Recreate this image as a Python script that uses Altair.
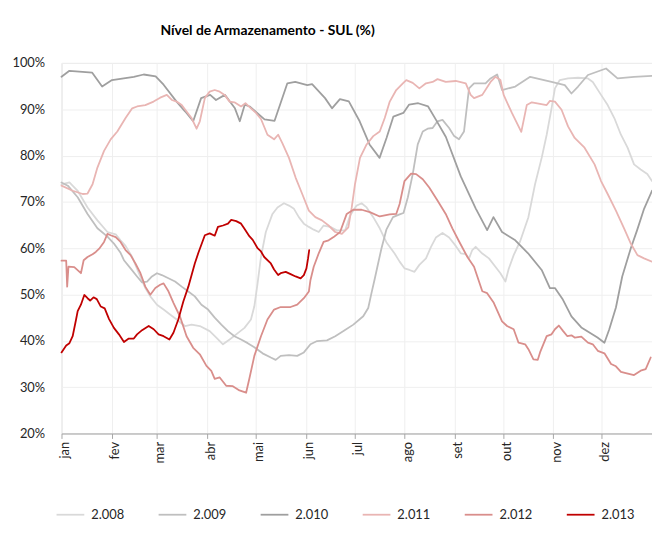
import altair as alt
import pandas as pd

YEARS = ["2.008", "2.009", "2.010", "2.011", "2.012", "2.013"]
COLORS = ["#d9d9d9", "#bfbfbf", "#9f9f9f", "#e9b5b3", "#d98e8b", "#c00000"]
WIDTHS = [1.8, 1.8, 1.8, 1.8, 1.8, 3.2]
MONTHS = ["jan", "fev", "mar", "abr", "mai", "jun", "jul", "ago", "set", "out", "nov", "dez", ""]
MONTH_START = [0, 31, 59, 90, 120, 151, 181, 212, 243, 273, 304, 334, 365]
Y_TICKS = [20, 30, 40, 50, 60, 70, 80, 90, 100]

# day of year / storage level (%)
d2008 = [0, 4.9, 10.0, 16.1, 22.2, 28.4, 33.5, 36.5, 39.6, 43.7, 47.8, 51.8, 54.9, 59.0, 63.1, 67.1,
         71.2, 76.3, 80.4, 85.5, 91.6, 95.7, 99.8, 103.9, 108.0, 113.1, 117.1, 119.2, 121.2, 123.3,
         126.3, 130.4, 133.5, 137.5, 140.6, 143.7, 146.7, 149.8, 152.9, 155.9, 159.0, 162.0, 166.1,
         170.2, 175.3, 178.4, 182.4, 185.5, 188.6, 192.7, 196.7, 200.8, 205.9, 209.0, 212.0, 215.1,
         218.2, 221.2, 225.3, 228.4, 231.4, 235.5, 239.6, 243.7, 246.8, 249.9, 251.9, 253.9, 256.0,
         260.1, 264.2, 268.2, 271.3, 274.4, 276.4, 279.5, 283.5, 288.6, 292.7, 296.8, 299.9, 302.9,
         305.0, 308.0, 313.1, 319.3, 325.4, 328.4, 333.5, 337.6, 341.7, 345.8, 349.9, 353.9, 358.0,
         362.1, 365]
v2008 = [73.8, 74.2, 72.4, 68.8, 66.0, 63.5, 63.0, 61.7, 60.5, 58.1, 54.6, 51.4, 49.6, 47.8, 46.75, 45.7,
         44.6, 43.2, 43.5, 43.2, 42.1, 40.7, 39.25, 40.3, 41.4, 42.8, 44.6, 47.45, 52.4, 58.1,
         63.5, 67.4, 68.8, 69.7, 69.2, 68.5, 66.7, 65.3, 64.6, 64.0, 63.5, 64.9, 64.6,
         63.85, 63.85, 67.05, 69.2, 69.7, 68.8, 66.7, 64.3, 61.3, 58.85, 57.1, 55.65, 55.3,
         54.9, 56.4, 57.8, 60.3, 62.3, 63.3, 62.3, 60.5, 58.9, 58.7, 57.8, 59.6, 60.3,
         58.85, 57.8, 56.0, 54.6, 52.8, 55.5, 58.5, 61.5, 66.7, 73.8, 79.5, 84.5, 90.2,
         94.5, 96.3, 96.65, 96.8, 96.65, 95.9, 93.1, 90.9, 88.1, 84.5, 81.7, 78.1, 77.0,
         76.0, 74.5]

d2009 = [0, 3.9, 10.0, 16.1, 22.2, 28.4, 32.4, 36.5, 38.6, 42.7, 46.7, 49.8, 52.9, 55.9, 59.0, 62.0,
         66.1, 70.2, 74.3, 78.4, 82.4, 86.5, 90.6, 94.7, 98.8, 102.9, 106.9, 111.0, 115.1, 119.2,
         124.3, 129.4, 132.4, 135.5, 140.6, 145.7, 149.8, 153.9, 158.0, 164.1, 169.2, 174.3, 180.4,
         186.5, 189.6, 191.6, 193.7, 195.7, 197.8, 200.8, 204.9, 209.0, 211.4, 214.1, 217.1, 220.2,
         223.3, 226.3, 229.4, 232.4, 235.5, 239.6, 242.7, 245.7, 248.8, 251.9, 255.0, 262.1, 265.2,
         269.3, 272.3, 280.5, 289.7, 302.9, 311.1, 315.2, 319.3, 325.4, 336.6, 343.7, 353.9, 365]
v2009 = [74.2, 73.5, 71.0, 67.4, 64.3, 62.5, 61.0, 59.0, 57.4, 55.65, 53.9, 52.6, 52.8, 53.9, 54.6, 54.2,
         53.5, 52.8, 51.7, 50.65, 49.6, 47.8, 46.75, 45.0, 43.5, 42.1, 41.0, 40.3, 39.5, 38.6,
         37.3, 36.4, 35.9, 36.75, 36.9, 36.75, 37.5, 39.25, 39.95, 40.1, 41.0, 42.1, 43.5,
         45.3, 47.1, 50.3, 53.5, 56.7, 60.0, 64.0, 66.7, 67.3, 67.6, 71.0, 76.0, 82.4,
         85.2, 85.8, 85.95, 87.4, 87.7, 85.95, 84.2, 83.5, 85.2, 94.5, 95.6, 95.6, 96.65,
         97.5, 94.15, 94.9, 97.0, 95.9, 95.2, 93.4, 94.9, 97.4, 98.8, 96.65, 97.0, 97.2]

d2010 = [0, 4.9, 19.0, 25.1, 31.2, 44.7, 50.8, 58.2, 63.1, 71.0, 76.5, 81.4, 86.3, 91.9, 95.5, 101.0,
         107.2, 110.2, 113.3, 116.3, 125.5, 131.7, 139.6, 144.5, 151.9, 154.9, 162.9, 167.2, 172.1,
         177.6, 184.3, 190.4, 196.6, 200.9, 205.1, 211.3, 214.9, 220.5, 226.6, 231.5, 237.6, 246.8,
         256.0, 263.1, 267.0, 272.3, 280.5, 288.4, 296.8, 301.9, 305.0, 309.9, 315.2, 321.3, 331.3,
         335.6, 338.6, 342.7, 346.6, 351.9, 355.8, 360.1, 365]
v2010 = [97.0, 98.3, 97.9, 94.9, 96.3, 97.0, 97.5, 97.1, 95.3, 91.7, 89.5, 87.4, 92.4, 93.1, 92.0, 93.1,
         90.2, 87.4, 91.0, 90.6, 87.8, 87.5, 95.6, 95.9, 95.2, 95.4, 92.4, 90.2, 92.2,
         91.7, 87.4, 82.4, 79.5, 83.8, 88.4, 89.2, 91.0, 91.3, 90.6, 87.7, 84.0, 75.5,
         68.6, 63.9, 66.7, 63.5, 61.7, 58.9, 55.3, 51.4, 51.4, 48.9, 45.3, 42.9, 40.7,
         39.6, 42.5, 47.2, 53.9, 60.0, 63.9, 68.5, 72.4]

d2011 = [0, 6.9, 13.1, 16.1, 19.2, 22.2, 26.3, 30.4, 34.5, 39.6, 43.7, 46.7, 51.8, 56.9, 61.0, 65.1,
         68.2, 71.2, 74.3, 77.3, 80.4, 83.5, 85.5, 88.6, 91.6, 94.7, 97.8, 100.8, 103.9, 106.9,
         111.0, 113.7, 116.1, 120.2, 123.3, 127.3, 131.4, 133.9, 136.5, 140.6, 144.7, 148.8, 152.9,
         156.9, 161.0, 165.1, 169.2, 173.3, 177.3, 179.4, 181.4, 184.5, 188.6, 192.7, 196.7, 199.8,
         202.9, 206.9, 211.0, 213.1, 217.1, 221.2, 225.3, 229.4, 232.4, 237.5, 243.7, 249.9, 252.9,
         255.0, 260.1, 265.2, 268.2, 271.3, 273.3, 278.4, 284.2, 287.6, 290.7, 299.9, 301.9, 305.0,
         309.1, 313.1, 317.2, 323.3, 329.5, 333.5, 337.6, 342.7, 347.8, 351.9, 356.0, 360.1, 365]
v2011 = [73.5, 72.4, 71.7, 71.8, 73.8, 77.4, 81.0, 83.5, 85.2, 88.1, 90.2, 90.6, 90.9, 91.65, 92.5, 93.1,
         92.0, 91.65, 90.9, 89.5, 88.1, 85.8, 87.4, 92.4, 93.8, 94.15, 93.8, 93.1, 91.65, 91.5,
         90.6, 91.3, 90.5, 89.2, 87.9, 84.5, 83.5, 84.5, 82.7, 79.5, 75.25, 71.7, 68.1,
         66.7, 66.0, 64.9, 63.5, 63.1, 64.5, 68.8, 73.8, 79.5, 82.4, 84.2, 85.2, 88.1,
         91.65, 94.15, 95.6, 96.3, 95.7, 94.5, 95.6, 95.9, 96.5, 95.9, 96.1, 95.6, 93.1,
         92.4, 93.1, 95.9, 97.0, 96.3, 93.1, 89.2, 85.1, 90.9, 91.5, 90.9, 91.8, 91.65,
         89.9, 86.3, 83.8, 81.7, 78.1, 74.5, 71.7, 68.1, 64.2, 61.0, 58.5, 57.8, 57.1]

d2012 = [0, 2.9, 3.5, 4.3, 7.9, 12.0, 13.7, 16.1, 19.2, 21.2, 23.3, 26.3, 28.4, 30.4, 33.5, 36.5,
         39.6, 42.7, 45.7, 48.8, 51.8, 54.9, 58.0, 61.0, 63.1, 66.1, 69.2, 73.3, 77.3, 81.4,
         85.5, 89.6, 92.6, 94.7, 97.8, 101.8, 105.9, 110.0, 114.1, 116.1, 119.2, 123.3, 127.3,
         131.4, 135.5, 141.6, 145.7, 149.8, 152.9, 153.9, 155.9, 159.0, 162.0, 165.1, 168.2, 172.2,
         176.3, 180.4, 185.5, 190.6, 196.7, 202.9, 206.9, 209.0, 212.0, 216.1, 219.2, 223.3, 227.3,
         232.4, 237.5, 241.6, 245.7, 250.9, 255.0, 260.1, 263.1, 267.2, 272.3, 275.4, 279.5, 282.5,
         286.6, 288.6, 291.7, 294.4, 295.8, 299.9, 302.9, 305.0, 307.4, 310.1, 312.7, 315.2, 317.2,
         321.3, 325.4, 328.4, 331.5, 335.6, 339.7, 342.7, 345.8, 348.8, 353.9, 358.0, 361.1, 364.2]
v2012 = [57.3, 57.3, 51.7, 56.0, 55.9, 54.6, 57.4, 58.1, 58.7, 59.2, 59.9, 61.35, 63.1, 62.8, 62.4, 61.35,
         59.6, 58.5, 56.7, 54.6, 51.7, 49.95, 51.4, 52.1, 52.4, 50.7, 48.2, 45.2, 41.0, 38.5,
         37.1, 34.6, 33.5, 31.8, 32.1, 30.3, 30.2, 29.3, 28.8, 31.8, 36.75, 41.0, 44.6,
         46.75, 47.3, 47.3, 47.8, 49.2, 50.65, 53.15, 56.0, 58.9, 61.35, 61.7, 62.4, 63.5,
         67.4, 68.3, 68.3, 67.8, 66.85, 67.3, 67.4, 69.55, 74.5, 76.1, 76.0, 74.9, 73.1,
         70.3, 67.4, 64.3, 61.5, 58.1, 56.0, 50.7, 50.3, 48.2, 44.2, 43.2, 42.5, 39.6,
         39.25, 38.2, 36.0, 35.9, 37.5, 41.0, 41.4, 42.5, 43.3, 42.1, 41.0, 41.2, 40.7,
         40.9, 39.6, 39.25, 37.85, 37.3, 35.0, 34.5, 33.3, 33.05, 32.6, 33.55, 33.9, 36.4]

d2013 = [0, 2.9, 4.9, 6.9, 9.0, 10.0, 12.0, 14.1, 16.1, 17.7, 19.8, 21.8, 24.3, 26.7, 29.4, 32.4,
         35.5, 38.6, 41.6, 44.7, 46.7, 49.8, 53.9, 57.0, 60.0, 63.1, 66.7, 69.2, 72.2, 75.3,
         78.4, 82.4, 84.5, 88.6, 91.6, 94.7, 96.7, 99.8, 102.9, 104.9, 108.0, 111.0, 113.1,
         116.1, 118.2, 121.2, 123.3, 125.3, 129.4, 131.4, 133.9, 135.5, 138.6, 141.6, 144.7,
         147.8, 149.8, 151.4, 152.4, 153.1]
v2013 = [37.5, 39.0, 39.5, 41.0, 44.6, 46.4, 47.8, 49.9, 49.2, 48.7, 49.4, 49.0, 47.4, 47.0, 44.7, 42.8,
         41.4, 39.75, 40.5, 40.5, 41.4, 42.3, 43.2, 42.5, 41.4, 41.0, 40.3, 41.75, 44.6, 48.5,
         51.7, 56.7, 58.9, 62.8, 63.2, 62.7, 64.6, 64.9, 65.3, 66.1, 65.85, 65.3, 64.2,
         62.6, 61.8, 60.0, 59.3, 58.1, 56.7, 55.4, 54.2, 54.6, 54.9, 54.4, 53.9,
         53.5, 54.2, 55.65, 57.8, 59.6]

series = [(YEARS[0], d2008, v2008), (YEARS[1], d2009, v2009), (YEARS[2], d2010, v2010),
          (YEARS[3], d2011, v2011), (YEARS[4], d2012, v2012), (YEARS[5], d2013, v2013)]

rows = []
for order, (name, days, vals) in enumerate(series):
    for d, v in zip(days, vals):
        rows.append({"ano": name, "dia": d, "nivel": v, "ord": order})
df = pd.DataFrame(rows)

FONT = "Lato"
month_expr = f"{MONTHS}[indexof({MONTH_START}, datum.value)]"

legend_kw = dict(title=None, orient="none", direction="horizontal",
                 legendX=-6, legendY=441, symbolType="stroke",
                 symbolSize=784, labelFontSize=13, labelFont=FONT,
                 labelColor="#262626", labelOffset=6, columnPadding=30, padding=0)

chart = alt.Chart(df).mark_line(strokeJoin="round", strokeCap="round").encode(
    x=alt.X("dia:Q",
            scale=alt.Scale(domain=[0, 365], nice=False, zero=False),
            axis=alt.Axis(values=MONTH_START, labelExpr=month_expr, title=None,
                          labelAngle=-90, labelFontSize=13, labelFont=FONT, labelColor="#262626",
                          domainColor="#a6a6a6", tickColor="#a6a6a6", tickSize=5,
                          labelPadding=3, grid=True, gridColor="#efefef", labelOffset=3)),
    y=alt.Y("nivel:Q",
            scale=alt.Scale(domain=[20, 100], nice=False, zero=False),
            axis=alt.Axis(values=Y_TICKS, labelExpr="datum.value + '%'", title=None,
                          domain=False, ticks=False, labelFontSize=13, labelFont=FONT,
                          labelColor="#262626", labelPadding=17, grid=True, gridColor="#efefef")),
    color=alt.Color("ano:O", scale=alt.Scale(domain=YEARS, range=COLORS),
                    legend=alt.Legend(**legend_kw)),
    strokeWidth=alt.StrokeWidth("ano:O", scale=alt.Scale(domain=YEARS, range=WIDTHS),
                                legend=alt.Legend(**legend_kw)),
    order=alt.Order("dia:Q"),
    detail="ano:O",
).properties(
    width=596,
    height=374,
    title=alt.TitleParams("Nível de Armazenamento - SUL (%)", font=FONT, fontSize=14,
                          fontWeight="bold", color="black", anchor="middle", frame="group",
                          dx=-90, offset=19),
    autosize=alt.AutoSizeParams(type="none"),
    padding={"left": 54, "top": 53, "right": 0, "bottom": 96},
).configure_view(stroke=None).configure(background="white")

chart.save("out.html", embed_options={"renderer": "svg", "actions": False})
